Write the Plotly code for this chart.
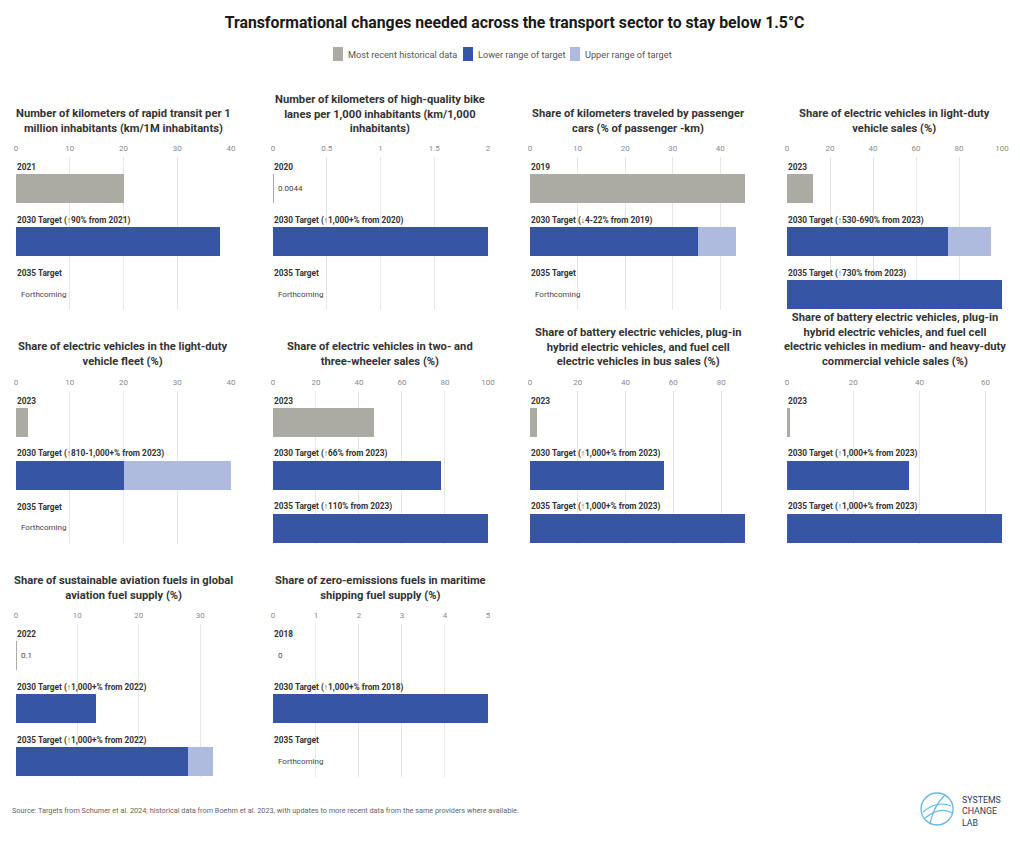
import plotly.graph_objects as go

# ---------------- data ----------------
titles = [
    "Number of kilometers of rapid transit per 1<br>million inhabitants (km/1M inhabitants)",
    "Number of kilometers of high-quality bike<br>lanes per 1,000 inhabitants (km/1,000<br>inhabitants)",
    "Share of kilometers traveled by passenger<br>cars (% of passenger -km)",
    "Share of electric vehicles in light-duty<br>vehicle sales (%)",
    "Share of electric vehicles in the light-duty<br>vehicle fleet (%)",
    "Share of electric vehicles in two- and<br>three-wheeler sales (%)",
    "Share of battery electric vehicles, plug-in<br>hybrid electric vehicles, and fuel cell<br>electric vehicles in bus sales (%)",
    "Share of battery electric vehicles, plug-in<br>hybrid electric vehicles, and fuel cell<br>electric vehicles in medium- and heavy-duty<br>commercial vehicle sales (%)",
    "Share of sustainable aviation fuels in global<br>aviation fuel supply (%)",
    "Share of zero-emissions fuels in maritime<br>shipping fuel supply (%)",
]
row_labels = [
    ["2021", "2030 Target (↑90% from 2021)", "2035 Target"],
    ["2020", "2030 Target (↑1,000+% from 2020)", "2035 Target"],
    ["2019", "2030 Target (↓4-22% from 2019)", "2035 Target"],
    ["2023", "2030 Target (↑530-690% from 2023)", "2035 Target (↑730% from 2023)"],
    ["2023", "2030 Target (↑810-1,000+% from 2023)", "2035 Target"],
    ["2023", "2030 Target (↑66% from 2023)", "2035 Target (↑110% from 2023)"],
    ["2023", "2030 Target (↑1,000+% from 2023)", "2035 Target (↑1,000+% from 2023)"],
    ["2023", "2030 Target (↑1,000+% from 2023)", "2035 Target (↑1,000+% from 2023)"],
    ["2022", "2030 Target (↑1,000+% from 2022)", "2035 Target (↑1,000+% from 2022)"],
    ["2018", "2030 Target (↑1,000+% from 2018)", "2035 Target"],
]
hist = [20, 0.0044, 45.2, 12, 2.2, 47, 3, 1, 0.1, 0]
hist_text = ["", "0.0044", "", "", "", "", "", "", "0.1", "0"]
lower_2030 = [38, 2, 35.3, 75, 20, 78, 56, 37, 13, 5]
upper_2030 = [None, None, 43.4, 95, 40, None, None, None, None, None]
lower_2035 = [None, None, None, 100, None, 100, 90, 65, 28, None]
upper_2035 = [None, None, None, None, None, None, None, None, 32, None]
axis_max = [40, 2, 45.2, 100, 40, 100, 90, 65, 35, 5]
tick_step = [10, 0.5, 10, 20, 10, 20, 20, 20, 10, 1]
legend_names = ["Most recent historical data", "Lower range of target", "Upper range of target"]

# ---------------- geometry / style ----------------
W, H = 1004, 826          # figure size; the page adds a small body margin
FONT = "Roboto, Arial, sans-serif"


def px(x):
    # page pixel (reference) -> paper fraction
    return (x - 10.1) / 994.8


def py(y):
    return 1 - (y - 8) / H


GREY = "#abaaa3"
DARK = "#3755a5"
LIGHT = "#aebade"
GRID = "#e6e6e6"

col_px = [(16, 231), (273, 488), (530, 745), (787, 1002)]
row_px = [(157, 310), (390.5, 543.5), (624, 777)]
title_bottom = [137, 370, 604]
YR = [2.293, -0.594]
BW = 0.547

fig = go.Figure()
annotations = []
shapes = []

for i in range(len(titles)):
    r, c = divmod(i, 4)
    n = i + 1
    xa = "x" if n == 1 else f"x{n}"
    ya = "y" if n == 1 else f"y{n}"
    x0, x1 = col_px[c]
    y0, y1 = row_px[r]
    fig.layout[("xaxis" if n == 1 else f"xaxis{n}")] = dict(
        domain=[px(x0), px(x1)], anchor=ya, side="top",
        range=[0, axis_max[i]], dtick=tick_step[i], tick0=0,
        showgrid=True, gridcolor=GRID, gridwidth=1, zeroline=False,
        showline=False, ticks="", tickfont=dict(size=8, color="#8a8a8a", family=FONT),
        ticklabelstandoff=3, fixedrange=True,
    )
    fig.layout[("yaxis" if n == 1 else f"yaxis{n}")] = dict(
        domain=[py(y1), py(y0)], anchor=xa, range=YR,
        showticklabels=False, showgrid=False, zeroline=False, fixedrange=True,
    )
    ys = [0, 1, 2]
    up = [None, upper_2030[i], upper_2035[i]]
    if any(v is not None for v in up):
        fig.add_trace(go.Bar(x=up, y=ys, orientation="h", marker=dict(color=LIGHT, line_width=0),
                             width=BW, xaxis=xa, yaxis=ya, name=legend_names[2],
                             showlegend=False, hoverinfo="skip"))
    lo = [None, lower_2030[i], lower_2035[i]]
    fig.add_trace(go.Bar(x=lo, y=ys, orientation="h", marker=dict(color=DARK, line_width=0),
                         width=BW, xaxis=xa, yaxis=ya, name=legend_names[1],
                         showlegend=False, hoverinfo="skip"))
    fig.add_trace(go.Bar(x=[hist[i], None, None], y=ys, orientation="h",
                         marker=dict(color=GREY, line_width=0),
                         width=BW, xaxis=xa, yaxis=ya, name=legend_names[0],
                         showlegend=False, hoverinfo="skip"))

    annotations.append(dict(
        text=f"<b>{titles[i]}</b>", xref="paper", yref="paper",
        x=px((x0 + x1) / 2), y=py(title_bottom[r]), xanchor="center", yanchor="bottom",
        showarrow=False, align="center", font=dict(size=11.2, color="#333333", family=FONT),
    ))
    for k in range(3):
        annotations.append(dict(
            text=f"<b>{row_labels[i][k]}</b>", xref=f"{xa} domain", yref=ya,
            x=0, xshift=-1, y=k - 0.405, xanchor="left", yanchor="middle", showarrow=False,
            font=dict(size=8.3, color="#333333", family=FONT),
        ))
    if hist_text[i]:
        annotations.append(dict(
            text=hist_text[i], xref=f"{xa} domain", yref=ya, x=0, xshift=3, y=0,
            xanchor="left", yanchor="middle", showarrow=False,
            font=dict(size=8, color="#444444", family=FONT),
        ))
    if lower_2035[i] is None and upper_2035[i] is None:
        annotations.append(dict(
            text="Forthcoming", xref=f"{xa} domain", yref=ya, x=0, xshift=3, y=2,
            xanchor="left", yanchor="middle", showarrow=False,
            font=dict(size=8, color="#444444", family=FONT),
        ))

# custom legend (swatch + label)
legend_colors = [GREY, DARK, LIGHT]
legend_x = [333, 463, 570]
for name, colr, lx in zip(legend_names, legend_colors, legend_x):
    shapes.append(dict(type="rect", xref="paper", yref="paper",
                       x0=px(lx), x1=px(lx + 10), y0=py(61), y1=py(47),
                       fillcolor=colr, line_width=0))
    annotations.append(dict(text=name, xref="paper", yref="paper", x=px(lx + 13), y=py(54),
                            xanchor="left", yanchor="middle", showarrow=False,
                            font=dict(size=9.2, color="#555555", family=FONT)))

# footnote
annotations.append(dict(
    text="Source: Targets from Schumer et al. 2024; historical data from Boehm et al. 2023, with updates to more recent data from the same providers where available.",
    xref="paper", yref="paper", x=px(10), y=py(810), xanchor="left", yanchor="middle",
    showarrow=False, font=dict(size=7.3, color="#666666", family=FONT),
))
# logo
annotations.append(dict(
    text="SYSTEMS<br>CHANGE<br>LAB", xref="paper", yref="paper", x=px(960), y=py(811),
    xanchor="left", yanchor="middle", align="left", showarrow=False,
    font=dict(size=8.8, color="#2b3b5c", family=FONT),
))
LOGO = "#5fb6e8"
shapes += [
    dict(type="circle", xref="paper", yref="paper",
         x0=px(921), x1=px(953), y0=py(825), y1=py(793), line=dict(color=LOGO, width=1.3)),
    dict(type="path", xref="paper", yref="paper",
         path=f"M {px(923)},{py(812)} Q {px(937)},{py(800)} {px(951)},{py(806)}",
         line=dict(color=LOGO, width=1.2)),
    dict(type="path", xref="paper", yref="paper",
         path=f"M {px(925)},{py(818)} Q {px(940)},{py(806)} {px(952)},{py(813)}",
         line=dict(color=LOGO, width=1.2)),
    dict(type="path", xref="paper", yref="paper",
         path=f"M {px(930)},{py(823)} Q {px(934)},{py(805)} {px(945)},{py(795)}",
         line=dict(color=LOGO, width=1.2)),
]

fig.update_layout(
    width=W, height=H, margin=dict(l=0, r=0, t=0, b=0),
    paper_bgcolor="white", plot_bgcolor="white",
    barmode="overlay", bargap=0, showlegend=False,
    font=dict(family=FONT, color="#333333"),
    title=dict(text="<b>Transformational changes needed across the transport sector to stay below 1.5°C</b>",
               x=px(512), xanchor="center", y=py(22), yanchor="middle",
               font=dict(size=15.8, color="#1a1a1a", family=FONT)),
    annotations=annotations, shapes=shapes,
)

fig.write_html("out.html")
